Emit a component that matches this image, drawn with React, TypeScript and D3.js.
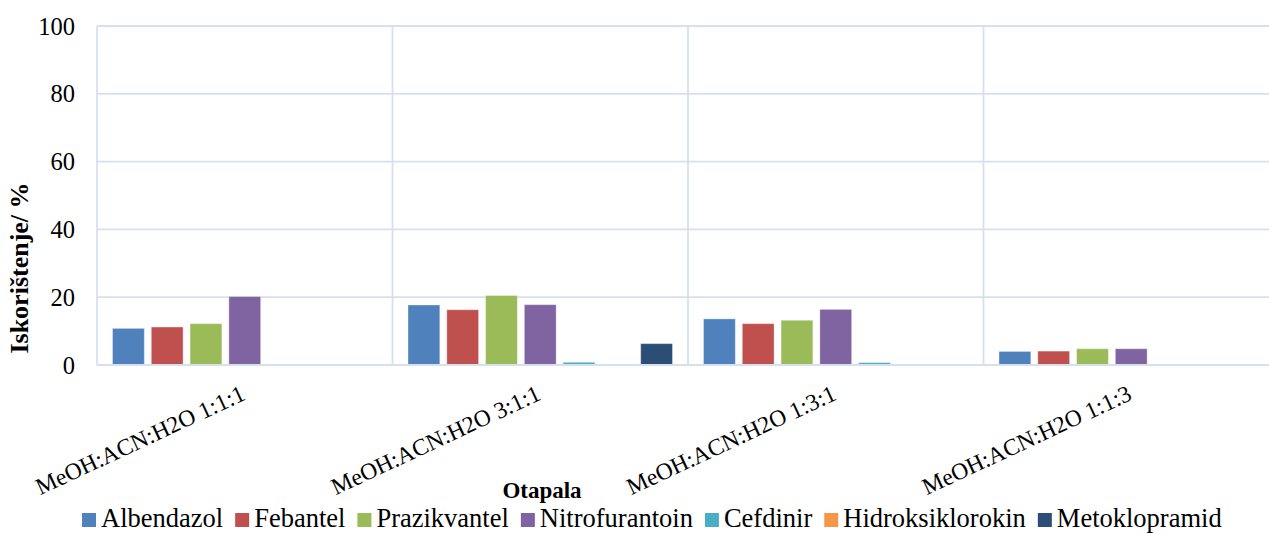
import React, { useEffect, useRef } from "react";
import * as d3 from "d3";

const categories = [
  "MeOH:ACN:H2O 1:1:1",
  "MeOH:ACN:H2O 3:1:1",
  "MeOH:ACN:H2O 1:3:1",
  "MeOH:ACN:H2O 1:1:3",
];
const seriesNames = [
  "Albendazol",
  "Febantel",
  "Prazikvantel",
  "Nitrofurantoin",
  "Cefdinir",
  "Hidroksiklorokin",
  "Metoklopramid",
];
const albendazol = [10.8, 17.7, 13.6, 4.0];
const febantel = [11.2, 16.3, 12.2, 4.1];
const prazikvantel = [12.2, 20.5, 13.2, 4.8];
const nitrofurantoin = [20.2, 17.8, 16.4, 4.8];
const cefdinir = [0, 0.8, 0.7, 0];
const hidroksiklorokin = [0, 0, 0, 0];
const metoklopramid = [0, 6.3, 0, 0];
const seriesValues = [albendazol, febantel, prazikvantel, nitrofurantoin, cefdinir, hidroksiklorokin, metoklopramid];
const colors = ["#4F81BD", "#C0504D", "#9BBB59", "#8064A2", "#4BACC6", "#F79646", "#2C4D75"];
const yTicks = [0, 20, 40, 60, 80, 100];

const W = 1269;
const H = 533;
const FONT = "Liberation Serif";
const GRID = "#D6E1F0";

export default function App() {
  const legendRef = useRef<SVGGElement>(null);
  const plotL = 97, plotR = 1279, plotT = 26, plotB = 365;
  const x0 = d3.scaleBand<string>().domain(categories).range([plotL, plotR]).paddingInner(0.105).paddingOuter(0.0525);
  const x1 = d3.scaleBand<string>().domain(seriesNames).range([0, x0.bandwidth()]).paddingInner(0.18).paddingOuter(0);
  const y = d3.scaleLinear().domain([0, 100]).range([plotB, plotT]);
  const step = x0.step();

  useEffect(() => {
    const g = d3.select(legendRef.current);
    g.selectAll("*").remove();
    let xPos = 82;
    seriesNames.forEach((name, i) => {
      g.append("rect").attr("x", xPos).attr("y", 513).attr("width", 14).attr("height", 14).attr("fill", colors[i]);
      const t = g.append("text").attr("x", xPos + 19).attr("y", 527)
        .style("font-family", FONT).style("font-size", "26.5px").attr("fill", "#000").text(name);
      const w = (t.node() as SVGTextElement).getComputedTextLength();
      xPos += 19 + w + 12;
    });
  }, []);

  return (
    <svg width={W} height={H} style={{ position: "absolute", left: 0, top: 0, background: "#fff" }}>
      <g>
        {yTicks.map((t) => (
          <line key={"h" + t} x1={plotL} x2={plotR} y1={y(t)} y2={y(t)} stroke={GRID} strokeWidth={1.8} />
        ))}
        {d3.range(categories.length + 1).map((i) => (
          <line key={"v" + i} x1={plotL + i * step} x2={plotL + i * step} y1={plotT} y2={plotB} stroke={GRID} strokeWidth={1.8} />
        ))}
      </g>
      <g>
        {seriesNames.map((s, si) =>
          categories.map((c, ci) => {
            const v = seriesValues[si][ci];
            if (v <= 0) return null;
            return (
              <rect
                key={s + c}
                x={(x0(c) as number) + (x1(s) as number)}
                y={y(v)}
                width={x1.bandwidth()}
                height={y(0) - y(v)}
                fill={colors[si]}
                stroke="#ffffff"
                strokeOpacity={0.35}
                strokeWidth={1}
              />
            );
          })
        )}
      </g>
      <line x1={plotL} x2={plotR} y1={y(0)} y2={y(0)} stroke={GRID} strokeWidth={2} />
      <g style={{ fontFamily: FONT, fontSize: "24.5px" }} fill="#000">
        {yTicks.map((t) => (
          <text key={"yt" + t} x={75} y={y(t)} dy="0.35em" textAnchor="end">{t}</text>
        ))}
      </g>
      <g style={{ fontFamily: FONT, fontSize: "23.5px" }} fill="#000">
        {categories.map((c) => {
          const cx = (x0(c) as number) + x0.bandwidth() / 2;
          return (
            <text key={"xl" + c} textAnchor="end" transform={`translate(${cx + 2},399) rotate(-25)`}>{c}</text>
          );
        })}
      </g>
      <text x={542} y={498} textAnchor="middle" style={{ fontFamily: FONT, fontWeight: "bold", fontSize: "23px" }}>Otapala</text>
      <text transform="translate(28,268) rotate(-90)" textAnchor="middle" style={{ fontFamily: FONT, fontWeight: "bold", fontSize: "26px" }}>Iskorištenje/ %</text>
      <g ref={legendRef} />
    </svg>
  );
}
